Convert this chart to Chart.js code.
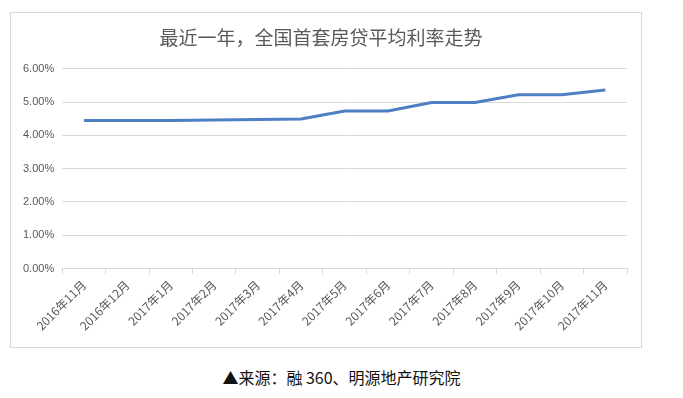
<!DOCTYPE html>
<html>
<head>
<meta charset="utf-8">
<script src="https://cdn.jsdelivr.net/npm/chart.js@4/dist/chart.umd.min.js"></script>
<style>
  html, body { margin: 0; padding: 0; background: #fff; }
  #box {
    position: absolute; left: 10px; top: 12px;
    width: 632px; height: 336px;
    border: 1px solid #d9d9d9; box-sizing: border-box;
  }
  #caption {
    position: absolute; left: 0; width: 683px; top: 365px;
    text-align: center; font-family: "Noto Sans CJK SC", sans-serif;
    font-size: 16px; color: #111;
  }
</style>
</head>
<body>
<div id="box"><canvas id="rateChart" width="630" height="334"></canvas></div>
<div id="caption">▲来源：融 360、明源地产研究院</div>
<script>
// 月份与首套房贷平均利率（%）
const months = ['2016年11月', '2016年12月', '2017年1月', '2017年2月', '2017年3月', '2017年4月',
  '2017年5月', '2017年6月', '2017年7月', '2017年8月', '2017年9月', '2017年10月', '2017年11月'];
const rates = [4.45, 4.45, 4.45, 4.46, 4.48, 4.49, 4.73, 4.73, 4.99, 4.99, 5.22, 5.22, 5.36];
const yTicks = [0, 1, 2, 3, 4, 5, 6];

const ctx = document.getElementById('rateChart').getContext('2d');
new Chart(ctx, {
  type: 'line',
  data: {
    labels: months,
    datasets: [{
      data: rates,
      borderColor: '#4f7fc3',
      borderWidth: 3,
      pointRadius: 0,
      fill: false,
      tension: 0
    }]
  },
  options: {
    responsive: false,
    animation: false,
    layout: { padding: { left: 4, right: 14, top: 9, bottom: 11 } },
    plugins: {
      legend: { display: false },
      tooltip: { enabled: false },
      title: {
        display: true,
        text: '最近一年，全国首套房贷平均利率走势',
        color: '#595959',
        font: { family: '"Noto Sans CJK SC", sans-serif', size: 19, weight: 'normal' },
        padding: { top: 4, bottom: 20 }
      }
    },
    scales: {
      x: {
        offset: true,
        grid: { offset: true, drawOnChartArea: false, color: '#d9d9d9', tickLength: 6 },
        border: { color: '#d9d9d9' },
        ticks: {
          color: '#595959', maxRotation: 45, minRotation: 45, autoSkip: false,
          font: { family: '"Noto Sans CJK SC", sans-serif', size: 12 }
        }
      },
      y: {
        min: 0, max: 6,
        afterBuildTicks: axis => { axis.ticks = yTicks.map(v => ({ value: v })); },
        grid: { color: '#d9d9d9', drawTicks: false },
        border: { display: false },
        ticks: {
          color: '#595959', padding: 8,
          font: { family: '"Liberation Sans", sans-serif', size: 11 },
          callback: v => v.toFixed(2) + '%'
        }
      }
    }
  }
});
</script>
</body>
</html>
